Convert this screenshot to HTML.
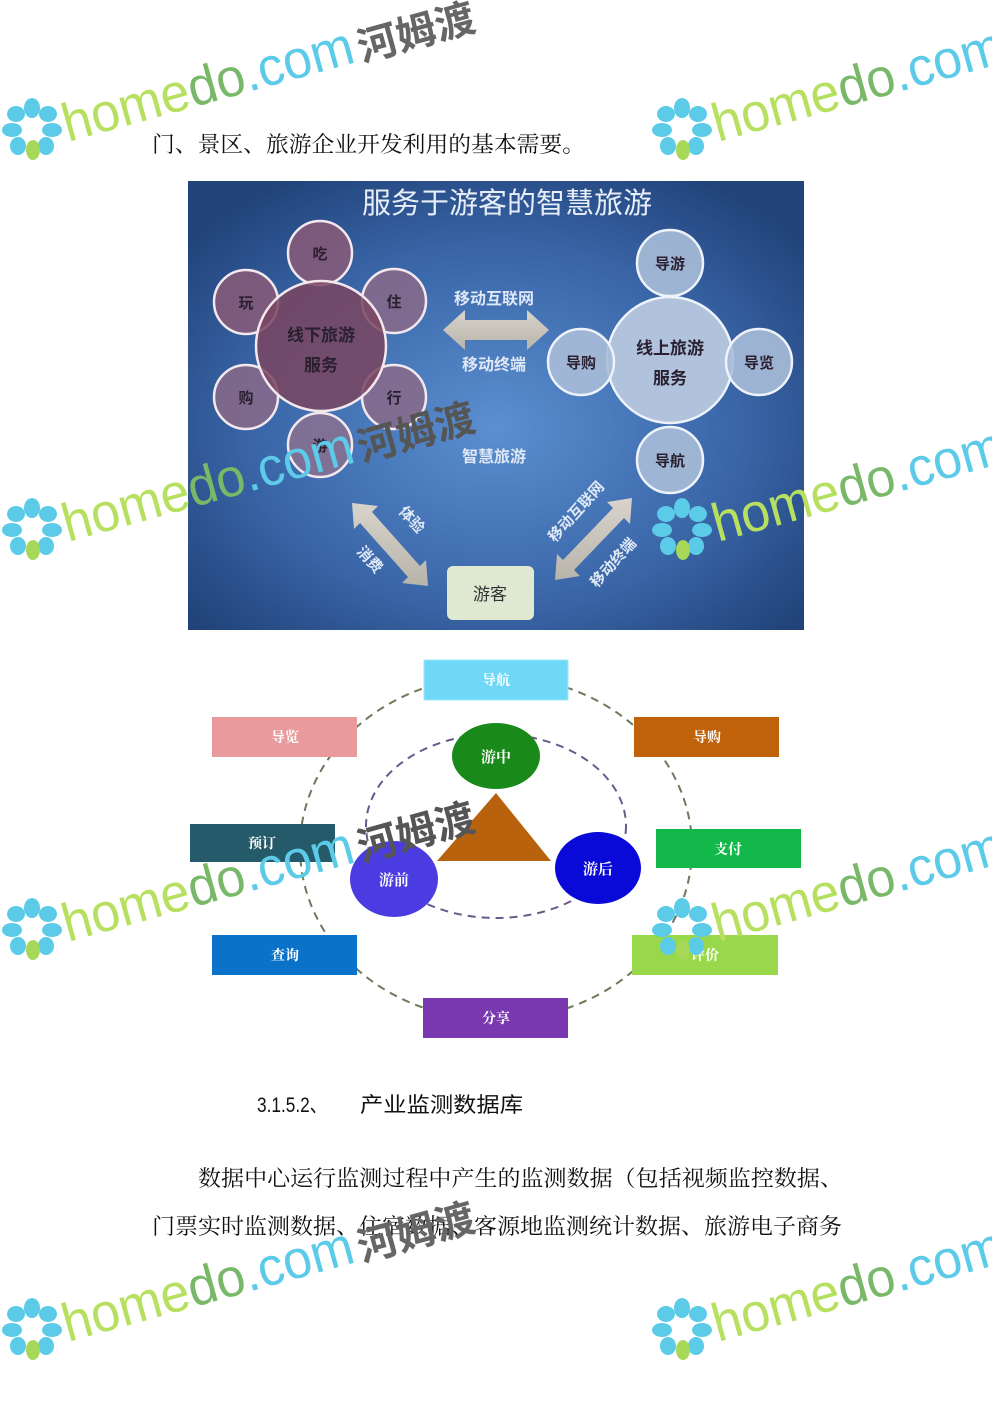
<!DOCTYPE html>
<html><head><meta charset="utf-8"><style>
html,body{margin:0;padding:0;background:#fff}
svg{display:block}
.wm{font-family:"Liberation Sans",sans-serif}
</style></head><body>
<svg width="992" height="1403" viewBox="0 0 992 1403" xmlns="http://www.w3.org/2000/svg">
<defs>
<radialGradient id="bg" cx="0.5" cy="0.55" r="0.65">
<stop offset="0" stop-color="#5a8fd0"/><stop offset="0.6" stop-color="#3a66a8"/><stop offset="1" stop-color="#21437a"/>
</radialGradient>
<linearGradient id="arr" x1="0" y1="0" x2="0" y2="1"><stop offset="0" stop-color="#d8d4cc"/><stop offset="1" stop-color="#b8b4aa"/></linearGradient>
</defs>

<g font-family="'Liberation Serif','Noto Serif CJK SC',serif" font-size="22" fill="#111">
<text x="152" y="152" textLength="433" lengthAdjust="spacingAndGlyphs">门、景区、旅游企业开发利用的基本需要。</text>
<text x="198" y="1186" textLength="645" lengthAdjust="spacingAndGlyphs">数据中心运行监测过程中产生的监测数据（包括视频监控数据、</text>
<text x="152" y="1234" textLength="690" lengthAdjust="spacingAndGlyphs">门票实时监测数据、住宿数据、客源地监测统计数据、旅游电子商务</text>
</g>
<g font-family="'Liberation Sans','Noto Sans CJK SC',sans-serif" font-size="21" fill="#111">
<text x="257" y="1112" textLength="70" lengthAdjust="spacingAndGlyphs">3.1.5.2、</text>
<text x="360" y="1112" textLength="163" lengthAdjust="spacingAndGlyphs">产业监测数据库</text>
</g>

<!-- top diagram -->
<rect x="188" y="181" width="616" height="449" fill="url(#bg)"/>
<text x="507" y="213" text-anchor="middle" font-family="'Noto Sans CJK SC',sans-serif" font-size="29" fill="#e8eef8">服务于游客的智慧旅游</text>
<g stroke="#f2e8ee" stroke-width="2.5">
<circle cx="320" cy="253" r="32" fill="#8a5a78" fill-opacity="0.85"/>
<circle cx="246" cy="302" r="32" fill="#8a5a78" fill-opacity="0.85"/>
<circle cx="394" cy="301" r="32" fill="#8a6a88" fill-opacity="0.85"/>
<circle cx="246" cy="397" r="32" fill="#8a6a88" fill-opacity="0.85"/>
<circle cx="394" cy="397" r="32" fill="#8a6a88" fill-opacity="0.85"/>
<circle cx="320" cy="445" r="32" fill="#8a7090" fill-opacity="0.85"/>
<circle cx="321" cy="346" r="65" fill="#7a4560" fill-opacity="0.85"/>
</g>
<g stroke="#eef2fa" stroke-width="2.5" fill="#a9bcd8">
<circle cx="670" cy="360" r="63" fill="#b0c2dc"/>
<circle cx="670" cy="263" r="33" fill-opacity="0.9"/>
<circle cx="581" cy="362" r="33" fill-opacity="0.9"/>
<circle cx="759" cy="362" r="33" fill-opacity="0.9"/>
<circle cx="670" cy="460" r="33" fill-opacity="0.9"/>
</g>
<g font-family="'Noto Sans CJK SC',sans-serif" font-weight="bold" fill="#2a2030" text-anchor="middle" font-size="15">
<text x="320" y="259">吃</text><text x="246" y="308">玩</text><text x="394" y="307">住</text>
<text x="246" y="403">购</text><text x="394" y="403">行</text><text x="320" y="451">游</text>
<text x="321" y="341" font-size="17">线下旅游</text><text x="321" y="371" font-size="17">服务</text>
<text x="670" y="269">导游</text><text x="581" y="368">导购</text><text x="759" y="368">导览</text><text x="670" y="466">导航</text>
<text x="670" y="354" font-size="17">线上旅游</text><text x="670" y="384" font-size="17">服务</text>
</g>
<polygon points="443,330 465,310 465,320 527,320 527,310 549,330 527,350 527,340 465,340 465,350" fill="url(#arr)"/>
<g font-family="'Noto Sans CJK SC',sans-serif" font-weight="bold" fill="#dfe8f5" text-anchor="middle" font-size="16">
<text x="494" y="304">移动互联网</text><text x="494" y="370">移动终端</text><text x="494" y="462">智慧旅游</text>
</g>
<g fill="url(#arr)">
<polygon points="352,503 378,506 372,512 420,566 426,560 428,586 402,583 408,577 360,523 354,529"/>
<polygon points="632,498 630,524 624,518 574,570 580,576 555,580 557,554 563,560 613,508 607,502"/>
</g>
<g font-family="'Noto Sans CJK SC',sans-serif" font-weight="bold" fill="#dfe8f5" font-size="15" text-anchor="middle">
<text transform="translate(408,523) rotate(48)">体验</text>
<text transform="translate(366,563) rotate(48)">消费</text>
<text transform="translate(580,515) rotate(-48)">移动互联网</text>
<text transform="translate(617,566) rotate(-48)">移动终端</text>
</g>
<rect x="447" y="566" width="87" height="54" rx="6" fill="#dfe9d2"/>
<text x="490" y="600" text-anchor="middle" font-family="'Noto Sans CJK SC',sans-serif" font-size="17" fill="#333">游客</text>

<!-- second diagram -->
<ellipse cx="496" cy="848" rx="196" ry="172" fill="none" stroke="#6a7a5a" stroke-width="2" stroke-dasharray="8 6"/>
<ellipse cx="496" cy="826" rx="130" ry="92" fill="none" stroke="#6a5a8a" stroke-width="2" stroke-dasharray="8 6"/>
<polygon points="496,793 437,861 551,861" fill="#b8620e"/>
<ellipse cx="496" cy="756" rx="44" ry="33" fill="#198a1a"/>
<ellipse cx="394" cy="879" rx="44" ry="38" fill="#4a3ce0"/>
<ellipse cx="598" cy="868" rx="43" ry="36" fill="#0a0ad8"/>
<g font-family="'Noto Serif CJK SC',serif" font-weight="bold" fill="#fff" text-anchor="middle" font-size="15">
<text x="496" y="762">游中</text><text x="394" y="885">游前</text><text x="598" y="874">游后</text>
</g>
<g font-family="'Noto Serif CJK SC',serif" font-weight="bold" fill="#fff" text-anchor="middle" font-size="14">
<rect x="424" y="660" width="144" height="40" fill="#6fd8f6" stroke="#9ee6fa"/><text x="496" y="685">导航</text>
<rect x="212" y="717" width="145" height="40" fill="#e89a9c"/><text x="285" y="742">导览</text>
<rect x="634" y="717" width="145" height="40" fill="#c0620a"/><text x="707" y="742">导购</text>
<rect x="190" y="824" width="145" height="38" fill="#255a6a"/><text x="262" y="848">预订</text>
<rect x="656" y="829" width="145" height="39" fill="#12b84a"/><text x="728" y="854">支付</text>
<rect x="212" y="935" width="145" height="40" fill="#0a72c8"/><text x="285" y="960">查询</text>
<rect x="632" y="935" width="146" height="40" fill="#98d84a"/><text x="705" y="960">评价</text>
<rect x="423" y="998" width="145" height="40" fill="#7a38b0"/><text x="496" y="1023">分享</text>
</g>

<!-- watermarks -->
<g class="wm">
<g>
<g fill="#5ccbe8"><ellipse cx="32" cy="108" rx="8" ry="10"/><ellipse cx="48" cy="114" rx="9" ry="8"/><ellipse cx="52" cy="130" rx="10" ry="7"/><ellipse cx="46" cy="146" rx="8" ry="9"/><ellipse cx="16" cy="114" rx="9" ry="8"/><ellipse cx="12" cy="130" rx="10" ry="7"/><ellipse cx="18" cy="146" rx="8" ry="9"/></g>
<ellipse cx="33" cy="150" rx="7" ry="10" fill="#a8d858"/>
<g transform="translate(68,142) rotate(-15.5)"><text font-size="54" textLength="300" lengthAdjust="spacingAndGlyphs"><tspan fill="#b8e060">home</tspan><tspan fill="#78b868">do</tspan><tspan fill="#5ccbe8">.com</tspan></text></g>
<text transform="translate(362,62) rotate(-15.5)" font-family="'Noto Sans CJK SC',sans-serif" font-weight="bold" font-size="40" fill="#666">河姆渡</text>
</g>
<g transform="translate(0,400)">
<g fill="#5ccbe8"><ellipse cx="32" cy="108" rx="8" ry="10"/><ellipse cx="48" cy="114" rx="9" ry="8"/><ellipse cx="52" cy="130" rx="10" ry="7"/><ellipse cx="46" cy="146" rx="8" ry="9"/><ellipse cx="16" cy="114" rx="9" ry="8"/><ellipse cx="12" cy="130" rx="10" ry="7"/><ellipse cx="18" cy="146" rx="8" ry="9"/></g>
<ellipse cx="33" cy="150" rx="7" ry="10" fill="#a8d858"/>
<g transform="translate(68,142) rotate(-15.5)"><text font-size="54" textLength="300" lengthAdjust="spacingAndGlyphs"><tspan fill="#b8e060">home</tspan><tspan fill="#78b868">do</tspan><tspan fill="#5ccbe8">.com</tspan></text></g>
<text transform="translate(362,62) rotate(-15.5)" font-family="'Noto Sans CJK SC',sans-serif" font-weight="bold" font-size="40" fill="#555">河姆渡</text>
</g>
<g transform="translate(0,800)">
<g fill="#5ccbe8"><ellipse cx="32" cy="108" rx="8" ry="10"/><ellipse cx="48" cy="114" rx="9" ry="8"/><ellipse cx="52" cy="130" rx="10" ry="7"/><ellipse cx="46" cy="146" rx="8" ry="9"/><ellipse cx="16" cy="114" rx="9" ry="8"/><ellipse cx="12" cy="130" rx="10" ry="7"/><ellipse cx="18" cy="146" rx="8" ry="9"/></g>
<ellipse cx="33" cy="150" rx="7" ry="10" fill="#a8d858"/>
<g transform="translate(68,142) rotate(-15.5)"><text font-size="54" textLength="300" lengthAdjust="spacingAndGlyphs"><tspan fill="#b8e060">home</tspan><tspan fill="#78b868">do</tspan><tspan fill="#5ccbe8">.com</tspan></text></g>
<text transform="translate(362,62) rotate(-15.5)" font-family="'Noto Sans CJK SC',sans-serif" font-weight="bold" font-size="40" fill="#555">河姆渡</text>
</g>
<g transform="translate(0,1200)">
<g fill="#5ccbe8"><ellipse cx="32" cy="108" rx="8" ry="10"/><ellipse cx="48" cy="114" rx="9" ry="8"/><ellipse cx="52" cy="130" rx="10" ry="7"/><ellipse cx="46" cy="146" rx="8" ry="9"/><ellipse cx="16" cy="114" rx="9" ry="8"/><ellipse cx="12" cy="130" rx="10" ry="7"/><ellipse cx="18" cy="146" rx="8" ry="9"/></g>
<ellipse cx="33" cy="150" rx="7" ry="10" fill="#a8d858"/>
<g transform="translate(68,142) rotate(-15.5)"><text font-size="54" textLength="300" lengthAdjust="spacingAndGlyphs"><tspan fill="#b8e060">home</tspan><tspan fill="#78b868">do</tspan><tspan fill="#5ccbe8">.com</tspan></text></g>
<text transform="translate(362,62) rotate(-15.5)" font-family="'Noto Sans CJK SC',sans-serif" font-weight="bold" font-size="40" fill="#666">河姆渡</text>
</g>
<g transform="translate(650,0)">
<g fill="#5ccbe8"><ellipse cx="32" cy="108" rx="8" ry="10"/><ellipse cx="48" cy="114" rx="9" ry="8"/><ellipse cx="52" cy="130" rx="10" ry="7"/><ellipse cx="46" cy="146" rx="8" ry="9"/><ellipse cx="16" cy="114" rx="9" ry="8"/><ellipse cx="12" cy="130" rx="10" ry="7"/><ellipse cx="18" cy="146" rx="8" ry="9"/></g>
<ellipse cx="33" cy="150" rx="7" ry="10" fill="#a8d858"/>
<g transform="translate(68,142) rotate(-15.5)"><text font-size="54" textLength="300" lengthAdjust="spacingAndGlyphs"><tspan fill="#b8e060">home</tspan><tspan fill="#78b868">do</tspan><tspan fill="#5ccbe8">.com</tspan></text></g>
</g>
<g transform="translate(650,400)">
<g fill="#5ccbe8"><ellipse cx="32" cy="108" rx="8" ry="10"/><ellipse cx="48" cy="114" rx="9" ry="8"/><ellipse cx="52" cy="130" rx="10" ry="7"/><ellipse cx="46" cy="146" rx="8" ry="9"/><ellipse cx="16" cy="114" rx="9" ry="8"/><ellipse cx="12" cy="130" rx="10" ry="7"/><ellipse cx="18" cy="146" rx="8" ry="9"/></g>
<ellipse cx="33" cy="150" rx="7" ry="10" fill="#a8d858"/>
<g transform="translate(68,142) rotate(-15.5)"><text font-size="54" textLength="300" lengthAdjust="spacingAndGlyphs"><tspan fill="#b8e060">home</tspan><tspan fill="#78b868">do</tspan><tspan fill="#5ccbe8">.com</tspan></text></g>
</g>
<g transform="translate(650,800)">
<g fill="#5ccbe8"><ellipse cx="32" cy="108" rx="8" ry="10"/><ellipse cx="48" cy="114" rx="9" ry="8"/><ellipse cx="52" cy="130" rx="10" ry="7"/><ellipse cx="46" cy="146" rx="8" ry="9"/><ellipse cx="16" cy="114" rx="9" ry="8"/><ellipse cx="12" cy="130" rx="10" ry="7"/><ellipse cx="18" cy="146" rx="8" ry="9"/></g>
<ellipse cx="33" cy="150" rx="7" ry="10" fill="#a8d858"/>
<g transform="translate(68,142) rotate(-15.5)"><text font-size="54" textLength="300" lengthAdjust="spacingAndGlyphs"><tspan fill="#b8e060">home</tspan><tspan fill="#78b868">do</tspan><tspan fill="#5ccbe8">.com</tspan></text></g>
</g>
<g transform="translate(650,1200)">
<g fill="#5ccbe8"><ellipse cx="32" cy="108" rx="8" ry="10"/><ellipse cx="48" cy="114" rx="9" ry="8"/><ellipse cx="52" cy="130" rx="10" ry="7"/><ellipse cx="46" cy="146" rx="8" ry="9"/><ellipse cx="16" cy="114" rx="9" ry="8"/><ellipse cx="12" cy="130" rx="10" ry="7"/><ellipse cx="18" cy="146" rx="8" ry="9"/></g>
<ellipse cx="33" cy="150" rx="7" ry="10" fill="#a8d858"/>
<g transform="translate(68,142) rotate(-15.5)"><text font-size="54" textLength="300" lengthAdjust="spacingAndGlyphs"><tspan fill="#b8e060">home</tspan><tspan fill="#78b868">do</tspan><tspan fill="#5ccbe8">.com</tspan></text></g>
</g>
</g>
</svg>
</body></html>
